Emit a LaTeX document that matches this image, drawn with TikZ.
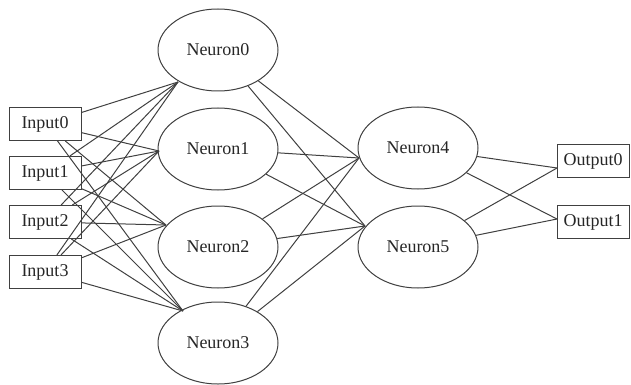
\documentclass[tikz,border=0pt]{standalone}
\usepackage{fontspec}
\setmainfont{Liberation Serif}
\usetikzlibrary{shapes.geometric}
\begin{document}
\begin{tikzpicture}[x=1pt,y=-1pt,font=\fontsize{18}{20}\selectfont,text=black!85,
 unit/.style={draw=black!75,line width=1pt,ellipse,minimum width=120pt,minimum height=82pt,inner sep=0pt},
 io/.style={draw=black!75,line width=1pt,rectangle,minimum width=72pt,minimum height=33pt,inner sep=0pt},
 wire/.style={draw=black!75,line width=1pt}]
\useasboundingbox (0,0) rectangle (631,385);
\foreach \i/\y in {0/124,1/173,2/222,3/272}{\node[io] (in\i) at (45,\y){Input\i};}
\foreach \i/\y in {0/50,1/149,2/247,3/343}{\node[unit] (n\i) at (218,\y){Neuron\i};}
\node[unit] (n4) at (418,148){Neuron4};\node[unit] (n5) at (418,247){Neuron5};
\node[io] (out0) at (593,161){Output0};\node[io] (out1) at (593,222){Output1};
% points where the wires meet
\coordinate (h0) at (178,82);\coordinate (h1) at (159,151);\coordinate (h2) at (166,225);\coordinate (h3) at (183,311);
\coordinate (h4) at (359,158);\coordinate (h5) at (365,226);\coordinate (h6) at (557,168);\coordinate (h7) at (557,219);
\foreach \i in {0,...,3}{\foreach \j in {0,...,3}{\draw[wire] (in\i) -- (h\j);}}
\foreach \i in {0,...,3}{\draw[wire] (n\i) -- (h4);\draw[wire] (n\i) -- (h5);}
\draw[wire] (n4) -- (h6);\draw[wire] (n4) -- (h7);\draw[wire] (n5) -- (h6);\draw[wire] (n5) -- (h7);
\end{tikzpicture}
\end{document}
